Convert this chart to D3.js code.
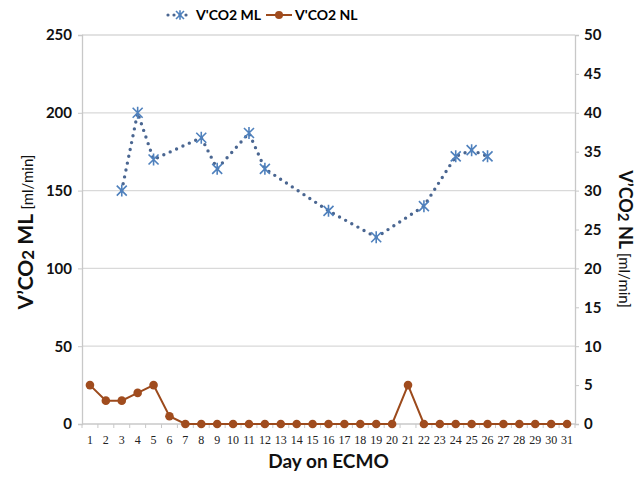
<!DOCTYPE html>
<html>
<head>
<meta charset="utf-8">
<script src="https://cdn.jsdelivr.net/npm/d3@7"></script>
<style>
body{margin:0;background:#fff;}
svg{font-family:Lato, "Open Sans", sans-serif;}
</style>
</head>
<body>
<script>
var days = d3.range(1, 32);
var mlValues = [null,null,150,200,170,null,null,184,164,null,187,164,null,null,null,137,null,null,120,null,null,140,null,172,176,172,null,null,null,null,null];
var nlValues = [5,3,3,4,5,1,0,0,0,0,0,0,0,0,0,0,0,0,0,0,5,0,0,0,0,0,0,0,0,0,0];
var leftTicks = [0,50,100,150,200,250];
var rightTicks = [0,5,10,15,20,25,30,35,40,45,50];

var W = 644, H = 477;
var pLeft = 82, pRight = 575, pTop = 35, pBottom = 424;

var svg = d3.select("body").append("svg").attr("width", W).attr("height", H);

var x = d3.scaleBand().domain(days).range([pLeft, pRight]);
var yL = d3.scaleLinear().domain([0, 250]).range([pBottom, pTop]);
var yR = d3.scaleLinear().domain([0, 50]).range([pBottom, pTop]);
var cx = function(d){ return x(d) + x.bandwidth()/2; };

// gridlines
svg.selectAll(".grid").data(leftTicks.filter(function(d){return d>0;}))
  .enter().append("line")
  .attr("x1", pLeft).attr("x2", pRight)
  .attr("y1", function(d){return yL(d);}).attr("y2", function(d){return yL(d);})
  .style("stroke", "#d9d9d9").style("stroke-width", 1.3);

// left axis
var la = svg.append("g").attr("transform", "translate(" + pLeft + ",0)")
  .call(d3.axisLeft(yL).tickValues(leftTicks).tickSize(4).tickPadding(6));
la.select(".domain").style("stroke", "#c8c8c8").style("stroke-width", 1.3);
la.selectAll(".tick line").style("stroke", "#c8c8c8");
la.selectAll("text").style("font-size", "15px").style("font-weight", "bold").style("fill", "#111")
  .style("font-family", "Lato, sans-serif");

// right axis
var ra = svg.append("g").attr("transform", "translate(" + pRight + ",0)")
  .call(d3.axisRight(yR).tickValues(rightTicks).tickSize(4).tickPadding(5));
ra.select(".domain").style("stroke", "#c8c8c8").style("stroke-width", 1.3);
ra.selectAll(".tick line").style("stroke", "#c8c8c8");
ra.selectAll("text").style("font-size", "15px").style("font-weight", "bold").style("fill", "#111")
  .style("font-family", "Lato, sans-serif");

// x axis
svg.append("line").attr("x1", pLeft).attr("x2", pRight).attr("y1", pBottom).attr("y2", pBottom)
  .style("stroke", "#c8c8c8").style("stroke-width", 1.3);
svg.selectAll(".xtick").data(days.concat([32]))
  .enter().append("line")
  .attr("x1", function(d){ return pLeft + (d-1)*x.step(); })
  .attr("x2", function(d){ return pLeft + (d-1)*x.step(); })
  .attr("y1", pBottom).attr("y2", pBottom + 4)
  .style("stroke", "#c8c8c8");
svg.selectAll(".xlab").data(days)
  .enter().append("text")
  .attr("x", cx).attr("y", pBottom + 20)
  .attr("text-anchor", "middle")
  .style("font-family", "'Liberation Serif', serif").style("font-size", "12px").style("fill", "#222")
  .text(function(d){ return d; });

// ML series
var mlData = days.map(function(d,i){ return {day:d, v:mlValues[i]}; }).filter(function(d){ return d.v !== null; });
var lineML = d3.line().x(function(d){ return cx(d.day); }).y(function(d){ return yL(d.v); });
svg.append("path").datum(mlData).attr("d", lineML)
  .style("fill", "none").style("stroke", "#4a6691").style("stroke-width", 3.4)
  .style("stroke-linecap", "round").style("stroke-dasharray", "0,7");

function star(g, px, py, s){
  g.append("path")
    .attr("d", "M" + (px-s) + "," + (py-s) + "L" + (px+s) + "," + (py+s) +
               "M" + (px-s) + "," + (py+s) + "L" + (px+s) + "," + (py-s) +
               "M" + px + "," + (py-s*1.2) + "L" + px + "," + (py+s*1.2))
    .style("stroke", "#4f81bd").style("stroke-width", 1.6).style("fill", "none");
}
var mk = svg.append("g");
mlData.forEach(function(d){ star(mk, cx(d.day), yL(d.v), 5); });

// NL series
var nlData = days.map(function(d,i){ return {day:d, v:nlValues[i]}; });
var lineNL = d3.line().x(function(d){ return cx(d.day); }).y(function(d){ return yR(d.v); });
svg.append("path").datum(nlData).attr("d", lineNL)
  .style("fill", "none").style("stroke", "#9c4a1c").style("stroke-width", 2);
svg.selectAll(".nl").data(nlData).enter().append("circle")
  .attr("cx", function(d){ return cx(d.day); })
  .attr("cy", function(d){ return yR(d.v); })
  .attr("r", 4.3)
  .style("fill", "#a04c1e");

// axis titles
var lt = svg.append("text").attr("transform", "translate(33," + 232 + ") rotate(-90)")
  .attr("text-anchor", "middle").style("fill", "#111");
lt.append("tspan").style("font-size", "21px").style("font-weight", "bold").text("V’CO");
lt.append("tspan").style("font-size", "17px").style("font-weight", "bold").attr("dy", 1).text("2");
lt.append("tspan").style("font-size", "21px").style("font-weight", "bold").attr("dy", -1).text(" ML ");
lt.append("tspan").style("font-size", "15px").text("[ml/min]");

var rt = svg.append("text").attr("transform", "translate(619," + 239 + ") rotate(90)")
  .attr("text-anchor", "middle").style("fill", "#111");
rt.append("tspan").style("font-size", "18px").style("font-weight", "bold").text("V’CO");
rt.append("tspan").style("font-size", "15px").style("font-weight", "bold").attr("dy", 1).text("2");
rt.append("tspan").style("font-size", "18px").style("font-weight", "bold").attr("dy", -1).text(" NL ");
rt.append("tspan").style("font-size", "15px").text("[ml/min]");

svg.append("text").attr("x", (pLeft+pRight)/2).attr("y", 468).attr("text-anchor", "middle")
  .style("font-size", "19px").style("font-weight", "bold").style("fill", "#111").text("Day on ECMO");

// legend
var lg = svg.append("g");
lg.append("line").attr("x1", 168).attr("x2", 192).attr("y1", 15).attr("y2", 15)
  .style("stroke", "#4a6691").style("stroke-width", 3.2).style("stroke-linecap", "round").style("stroke-dasharray", "0,6");
star(lg, 180, 15, 4);
lg.append("text").attr("x", 196).attr("y", 20).style("font-size", "14px").style("font-weight", "bold")
  .text("V'CO2 ML");
lg.append("line").attr("x1", 266).attr("x2", 292).attr("y1", 15).attr("y2", 15)
  .style("stroke", "#9c4a1c").style("stroke-width", 2);
lg.append("circle").attr("cx", 279).attr("cy", 15).attr("r", 4).style("fill", "#a04c1e");
lg.append("text").attr("x", 295).attr("y", 20).style("font-size", "14px").style("font-weight", "bold")
  .text("V'CO2 NL");
</script>
</body>
</html>
